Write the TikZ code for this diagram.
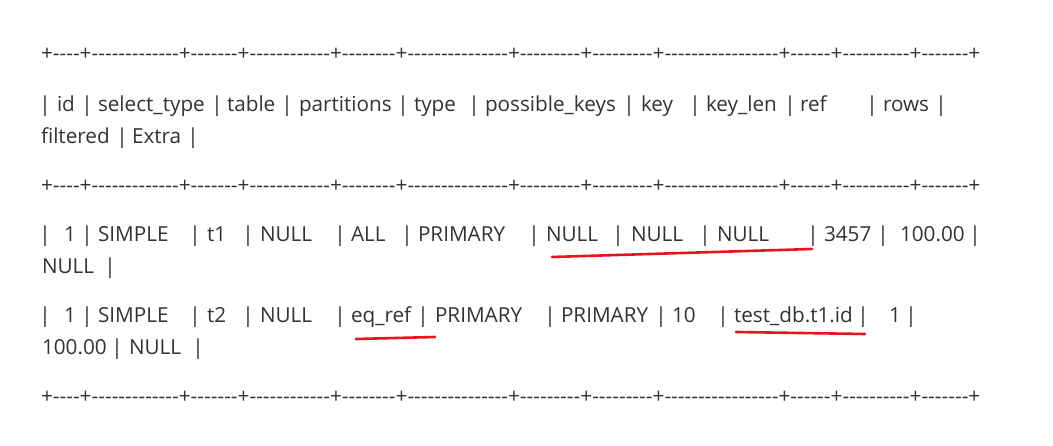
\documentclass[tikz,border=0pt]{standalone}
\usepackage{fontspec}
\setmainfont{Open Sans}[Ligatures=TeXOff]
\definecolor{txt}{HTML}{333333}
\definecolor{mark}{HTML}{E8141B}
\begin{document}
\begin{tikzpicture}[x=1pt,y=-1pt,
  tok/.style={anchor=base west, inner sep=0pt, outer sep=0pt, font=\fontsize{20.7}{24}\selectfont, text=txt},
  barc/.style={anchor=base, inner sep=0pt, outer sep=0pt, font=\fontsize{20.7}{24}\selectfont, text=txt},
  hl/.style={draw=mark, line width=2.6pt, line cap=round}]
\useasboundingbox[fill=white] (0,0) rectangle (1053,446);
% separator lines
\foreach \y [count=\i] in {61,193,404}
  \node[tok, name=sep\i] at (41,\y) {\scalebox{1.006}[1]{+----+-------------+-------+------------+--------+---------------+---------+---------+-----------------+------+----------+-------+}};
% header
\foreach \x [count=\i] in {45,87,217,287,403,474,629,695,790,872,941}
  \node[barc, name=hb\i] at (\x,112) {|};
\foreach \x/\t [count=\i] in {57/id,98/select\_type,227/table,299/partitions,414/type,485/possible\_keys,641/key,706/key\_len,800/ref,883/rows}
  \node[tok, name=hw\i] at (\x,112) {\t};
\node[tok, name=hf] at (41,144) {filtered};
\node[barc, name=hfb1] at (122,144) {|};
\node[tok, name=he] at (132,144) {Extra};
\node[barc, name=hfb2] at (193,144) {|};
% row 1
\foreach \x [count=\i] in {45,87,195,248,340,407,534,618,705,813,883,975}
  \node[barc, name=ab\i] at (\x,242) {|};
\foreach \x/\t [count=\i] in {64/1,98/SIMPLE,207/t1,260/NULL,351/ALL,418/PRIMARY,546/NULL,631/NULL,717/NULL,824/3457,900/100.00}
  \node[tok, name=aw\i] at (\x,242) {\t};
\node[tok, name=an] at (42,274) {NULL};
\node[barc, name=anb] at (110,274) {|};
% row 2
\foreach \x [count=\i] in {45,87,195,248,340,423,550,661,723,863,911}
  \node[barc, name=bb\i] at (\x,323) {|};
\foreach \x/\t [count=\i] in {64/1,98/SIMPLE,207/t2,260/NULL,351/eq\_ref,435/PRIMARY,561/PRIMARY,672/10,734/test\_db.t1.id,889/1}
  \node[tok, name=bw\i] at (\x,323) {\t};
\node[tok, name=bn1] at (42,355) {100.00};
\node[barc, name=bnb1] at (117,355) {|};
\node[tok, name=bn2] at (129,355) {NULL};
\node[barc, name=bnb2] at (198,355) {|};
% red underlines
\coordinate (u1a) at (552,257); \coordinate (u1b) at (812,249);
\coordinate (u2a) at (356,339); \coordinate (u2b) at (435,337);
\coordinate (u3a) at (736,332); \coordinate (u3b) at (865,334);
\draw[hl] (u1a) -- (u1b);
\draw[hl] (u2a) -- (u2b);
\draw[hl] (u3a) -- (u3b);
\end{tikzpicture}
\end{document}
